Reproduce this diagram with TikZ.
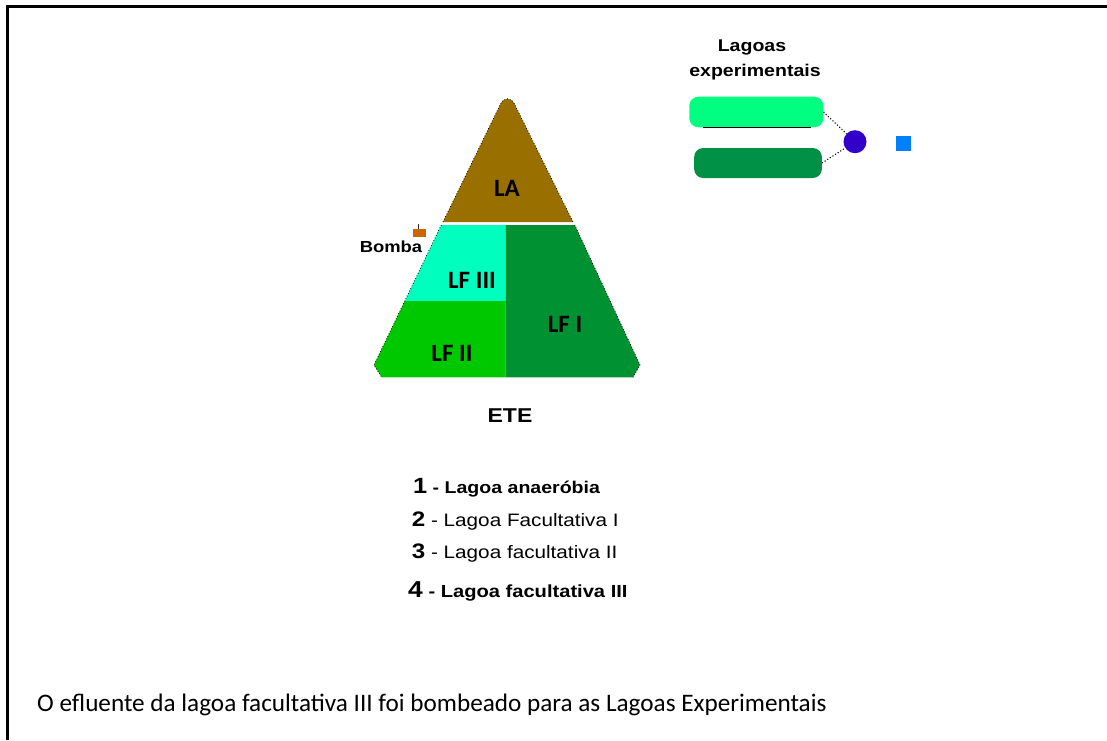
\documentclass[tikz,border=0pt]{standalone}
\usepackage{fontspec}
\setmainfont{Carlito}
\newfontfamily\pixfont[FakeStretch=1.15]{Liberation Sans}

\definecolor{laBrown}{RGB}{153,112,0}
\definecolor{lfOne}{RGB}{0,145,50}
\definecolor{lfTwo}{RGB}{0,200,0}
\definecolor{lfThree}{RGB}{0,255,190}
\definecolor{pondLight}{RGB}{0,255,128}
\definecolor{pondDark}{RGB}{0,145,70}
\definecolor{distBlue}{RGB}{50,0,200}
\definecolor{sqBlue}{RGB}{0,128,255}
\definecolor{pumpOrange}{RGB}{204,102,0}

\begin{document}
\begin{tikzpicture}[
    x=1pt, y=-1pt,
    zone/.style={font=\fontsize{25}{27}\selectfont\bfseries, text=black},
    pix/.style={font=\pixfont\bfseries\fontsize{17}{19}\selectfont},
    legend/.style={font=\pixfont\fontsize{18}{20}\selectfont, anchor=west, inner sep=0pt},
    pond/.style={rectangle, rounded corners=9pt, inner sep=0pt, draw=none},
    link/.style={dotted, line width=1.1pt}
]
\useasboundingbox (0,0) rectangle (1107,740);

% frame (open to the right and bottom)
\draw[line width=2.6pt] (7.7,740) -- (7.7,6.6) -- (1107,6.6);

% ETE: anaerobic pond on top, facultative ponds below
\fill[laBrown] (443,222) -- (500.5,104) .. controls (504,97) and (511,97) .. (514.5,104) -- (573,222) -- cycle;
\fill[lfThree] (441.3,225) -- (505.7,225) -- (505.7,301) -- (404.8,301) -- cycle;
\fill[lfTwo] (404.8,301) -- (505.7,301) -- (505.7,377.3) -- (381.7,377.3) -- (374,365) -- cycle;
\fill[lfOne] (505.7,225) -- (574.7,225) -- (640,365) -- (633,377.3) -- (505.7,377.3) -- cycle;
% dotted outline
\draw[link, line width=0.8pt] (443,222) -- (500.5,104) .. controls (504,97) and (511,97) .. (514.5,104) -- (573,222);
\draw[link, line width=0.8pt] (441.3,225) -- (374,365) -- (381.7,377.3);
\draw[link, line width=0.8pt] (574.7,225) -- (640,365) -- (633,377.3);

\node[zone] (la) at (507,188) {LA};
\node[zone] (lf3) at (472,280) {LF III};
\node[zone] (lf1) at (565,324) {LF I};
\node[zone] (lf2) at (452,353) {LF II};

% pump
\fill[pumpOrange] (412.7,229) rectangle (425.7,237.3);
\draw[line width=1.2pt, black!80] (418.5,223.5) -- (418.5,229);
\node[pix, font=\pixfont\bfseries\fontsize{16}{18}\selectfont] (bomba) at (391,247) {Bomba};

\node[pix, font=\pixfont\bfseries\fontsize{20}{22}\selectfont] (ete) at (510,416) {ETE};

% experimental ponds
\node[pix] (expA) at (752,47) {Lagoas};
\node[pix] (expB) at (755,72) {experimentais};
\node[pond, fill=pondLight, minimum width=134pt, minimum height=30.6pt] (pondA) at (756.3,112) {};
\draw[line width=1pt] ([xshift=14pt]pondA.south west) -- ([xshift=-13pt]pondA.south east);
\node[pond, fill=pondDark, minimum width=127.7pt, minimum height=30pt] (pondB) at (758,163) {};
\node[circle, fill=distBlue, minimum size=23pt, inner sep=0pt] (dist) at (855,141.7) {};
\node[fill=sqBlue, minimum size=15pt, inner sep=0pt] (sq) at (903,143.3) {};
\draw[link] (pondA.east) -- (dist);
\draw[link] (pondB.east) -- (dist);

% legend
\node[legend, font=\pixfont\bfseries\fontsize{17}{19}\selectfont] (l1) at (413,488) {{\fontsize{22}{22}\selectfont 1} - Lagoa anaeróbia};
\node[legend] (l2) at (411.7,521) {{\bfseries\fontsize{21}{22}\selectfont 2} - Lagoa Facultativa I};
\node[legend] (l3) at (411.7,553) {{\bfseries\fontsize{21}{22}\selectfont 3} - Lagoa facultativa II};
\node[legend, font=\pixfont\bfseries\fontsize{17.5}{19}\selectfont] (l4) at (408,591) {{\fontsize{23}{23}\selectfont 4} - Lagoa facultativa III};

\node[anchor=west, inner sep=0pt, font=\fontsize{25.2}{27}\selectfont] (note) at (37,705) {O efluente da lagoa facultativa III foi bombeado para as Lagoas Experimentais};
\end{tikzpicture}
\end{document}
